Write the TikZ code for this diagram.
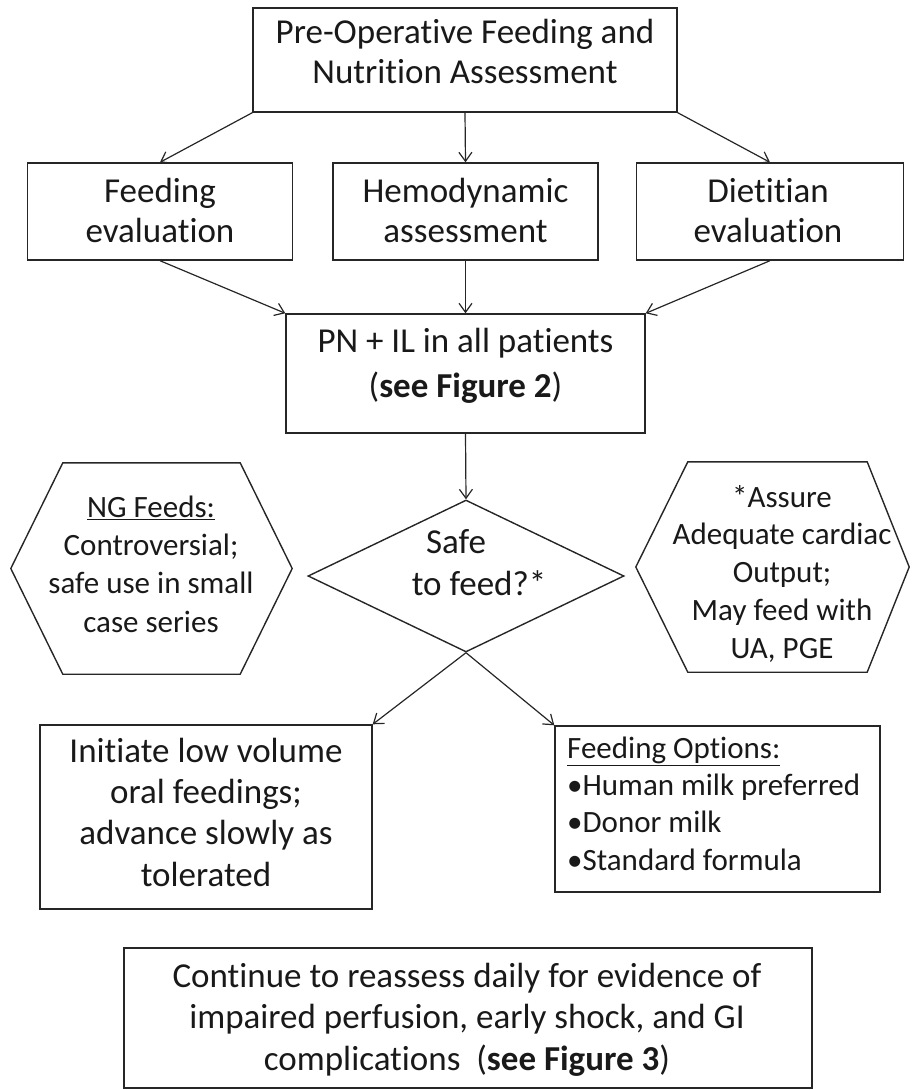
\documentclass[tikz,border=0pt]{standalone}
\usepackage{fontspec}
\setmainfont{Carlito}[Ligatures={NoCommon}]
\usetikzlibrary{arrows.meta,shapes.geometric}
\begin{document}
\begin{tikzpicture}[x=1pt,y=-1pt,
  box/.style={draw=black!85, line width=1.4pt, rectangle, inner sep=0pt},
  shapeline/.style={draw=black!85, line width=1.4pt},
  conn/.style={draw=black!85, line width=1.2pt, -{Straight Barb[length=9pt,width=13pt]}},
  bigtxt/.style={font=\fontsize{35}{42}\selectfont, align=center, inner sep=0pt, anchor=base, text=black!90},
  smalltxt/.style={font=\fontsize{31}{38}\selectfont, align=center, inner sep=0pt, anchor=base, text=black!90},
]
\useasboundingbox (0,0) rectangle (911,1090);

% boxes
\node[box, minimum width=424pt, minimum height=104pt] (top) at (465,60) {};
\node[box, minimum width=265pt, minimum height=97pt] (feed) at (160,211.5) {};
\node[box, minimum width=265pt, minimum height=97pt] (hemo) at (465.5,211.5) {};
\node[box, minimum width=267pt, minimum height=97pt] (diet) at (770,211.5) {};
\node[box, minimum width=359pt, minimum height=119pt] (pn) at (465.5,373.5) {};
\node[diamond, shapeline, inner sep=0pt, minimum width=316pt, minimum height=152pt] (dia) at (466,576) {};
\node[inner sep=0pt, minimum width=281pt, minimum height=211pt] (hexL) at (151.5,568.5) {};
\node[inner sep=0pt, minimum width=273pt, minimum height=210pt] (hexR) at (772.5,567) {};
\node[box, minimum width=332pt, minimum height=184pt] (left) at (206,817) {};
\node[box, minimum width=325pt, minimum height=166pt] (right) at (717.5,809) {};
\node[box, minimum width=688pt, minimum height=140pt] (bottom) at (468,1018) {};

% hexagons
\draw[shapeline] ([xshift=52pt]hexL.north west) -- ([xshift=-52pt]hexL.north east) -- (hexL.east)
  -- ([xshift=-52pt]hexL.south east) -- ([xshift=52pt]hexL.south west) -- (hexL.west) -- cycle;
\draw[shapeline] ([xshift=52pt]hexR.north west) -- ([xshift=-42pt]hexR.north east) -- (hexR.east)
  -- ([xshift=-42pt]hexR.south east) -- ([xshift=52pt]hexR.south west) -- (hexR.west) -- cycle;

% texts (anchor base = baseline of the last line)
\node[bigtxt, font=\fontsize{35}{40}\selectfont] (ttop) at (465,83) {Pre-Operative Feeding and\\Nutrition Assessment};
\node[bigtxt, font=\fontsize{35}{40}\selectfont] (tfeed) at (160,242) {Feeding\\evaluation};
\node[bigtxt, font=\fontsize{35}{40}\selectfont] (themo) at (465.5,242) {Hemodynamic\\assessment};
\node[bigtxt, font=\fontsize{35}{40}\selectfont] (tdiet) at (768,242) {Dietitian\\evaluation};
\node[bigtxt, font=\fontsize{35}{45}\selectfont] (tpn) at (465.5,397) {PN + IL in all patients\\(\textbf{see Figure 2})};
\node[bigtxt] (tdia) at (479,595) {Safe\hspace*{46pt}\\to feed?*};
\node[smalltxt, font=\fontsize{31}{38.3}\selectfont] (thexL) at (151,632) {\underline{NG Feeds:}\\Controversial;\\safe use in small\\case series};
\node[smalltxt, font=\fontsize{31}{37.75}\selectfont] (thexR) at (782,658) {*Assure\\Adequate cardiac\\Output;\\May feed with\\UA, PGE};
\node[bigtxt, font=\fontsize{35}{41.3}\selectfont] (tleft) at (206,886) {Initiate low volume\\oral feedings;\\advance slowly as\\tolerated};
\node[smalltxt, align=left, anchor=base west, font=\fontsize{31}{37.3}\selectfont] (tright) at (567,870) {\underline{Feeding Options:}\\•Human milk preferred\\•Donor milk\\•Standard formula};
\node[bigtxt, font=\fontsize{35}{41.5}\selectfont] (tbottom) at (467,1070) {Continue to reassess daily for evidence of\\impaired perfusion, early shock, and GI\\complications\ \ (\textbf{see Figure 3})};

% connectors
\draw[conn] (top.south west) -- (feed.north);
\draw[conn] (top.south) -- (hemo.north);
\draw[conn] (top.south east) -- (diet.north);
\draw[conn] (feed.south) -- (pn.north west);
\draw[conn] (hemo.south) -- (pn.north);
\draw[conn] (diet.south) -- (pn.north east);
\draw[conn] (pn.south) -- (dia.north);
\draw[conn] (dia.south) -- (left.north east);
\draw[conn] (dia.south) -- (right.north west);
\end{tikzpicture}
\end{document}
